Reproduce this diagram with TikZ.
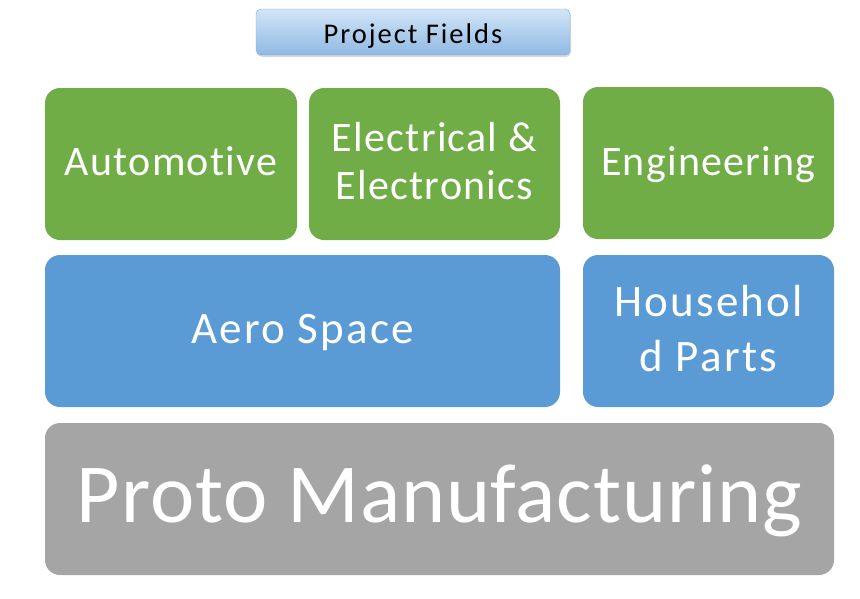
\documentclass[tikz,border=0pt]{standalone}
\usepackage{fontspec}
\setmainfont{Carlito}[Ligatures=NoCommon]
\usetikzlibrary{shadows}
\definecolor{cgreen}{HTML}{70AD47}
\definecolor{cblue}{HTML}{5B9BD5}
\definecolor{cgray}{HTML}{A5A5A5}
\definecolor{ttop}{HTML}{D2E5F7}
\definecolor{tbot}{HTML}{8FB9E3}
\definecolor{tedge}{HTML}{7FA9D3}
\begin{document}
\begin{tikzpicture}[x=1pt,y=-1pt,
  gtext/.style={text=white,align=center,anchor=base,inner sep=0pt,
    font=\fontsize{42}{48}\selectfont\addfontfeature{LetterSpace=3}},
  btext/.style={text=white,align=center,anchor=base,inner sep=0pt,
    font=\fontsize{45}{55}\selectfont\addfontfeature{LetterSpace=5}}]
\useasboundingbox (0,0) rectangle (860,598);
% title
\shade[top color=ttop,bottom color=tbot,draw=tedge,rounded corners=5pt,drop shadow={opacity=0.3,shadow xshift=1pt,shadow yshift=-2pt}] (256,9) rectangle (570,55);
\node[anchor=base,inner sep=0pt,font=\fontsize{28.5}{34}\selectfont\addfontfeature{LetterSpace=7}] (title) at (413,43) {Project Fields};
% green row
\fill[cgreen,rounded corners=15pt] (45,88) rectangle (297,240);
\node[gtext] (auto) at (171,175.5) {Automotive};
\fill[cgreen,rounded corners=15pt] (309,88) rectangle (560,240);
\node[gtext] (elec) at (434.5,199.5) {Electrical \&\\Electronics};
\fill[cgreen,rounded corners=15pt] (583,87) rectangle (834,239);
\node[gtext] (eng) at (708.5,175) {Engineering};
% blue row
\fill[cblue,rounded corners=15pt] (45,255) rectangle (560,407);
\node[btext] (aero) at (302.5,343) {Aero Space};
\fill[cblue,rounded corners=15pt] (583,255) rectangle (834,407);
\node[btext] (house) at (708.5,371) {Househol\\d Parts};
% gray row
\fill[cgray,rounded corners=15pt] (45,423) rectangle (834,575);
\node[text=white,anchor=base,inner sep=0pt,font=\fontsize{84}{100}\selectfont\addfontfeature{LetterSpace=1}] (proto) at (439.5,522) {Proto Manufacturing};
\end{tikzpicture}
\end{document}
